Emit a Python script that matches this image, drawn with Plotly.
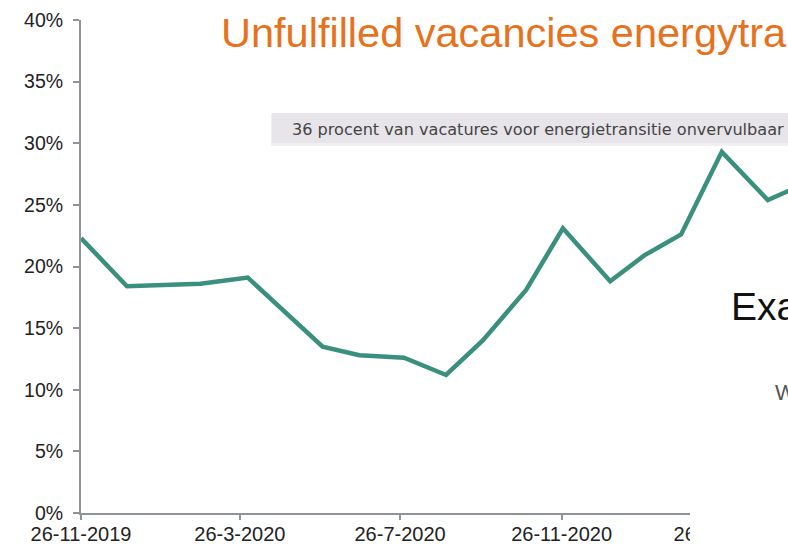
import plotly.graph_objects as go

# ---- data ----
dates = ["2019-11-26", "2019-12-31", "2020-02-25", "2020-04-01", "2020-05-28",
         "2020-06-25", "2020-07-29", "2020-08-30", "2020-09-27", "2020-10-30",
         "2020-11-27", "2021-01-02", "2021-01-28", "2021-02-25", "2021-03-28",
         "2021-05-02", "2021-05-30"]
share_pct = [22.3, 18.4, 18.6, 19.1, 13.5, 12.8, 12.6, 11.2, 14.0, 18.1,
             23.1, 18.8, 20.9, 22.6, 29.3, 25.4, 26.7]

tick_dates = ["2019-11-26", "2020-03-26", "2020-07-26", "2020-11-26", "2021-03-26"]
tick_text = ["26-11-2019", "26-3-2020", "26-7-2020", "26-11-2020", "26-3-2021"]
y_ticks = [0, 5, 10, 15, 20, 25, 30, 35, 40]
y_tick_text = ["0%", "5%", "10%", "15%", "20%", "25%", "30%", "35%", "40%"]

title_text = "Unfulfilled vacancies energytransition"
caption_text = "36 procent van vacatures voor energietransitie onvervulbaar"
overlay_text = "Exa"
overlay_text2 = "W"

# ---- layout geometry ----
W, H = 788, 546
ML, MR, MT, MB = 81, 0, 20, 33
PW, PH = W - ML - MR, H - MT - MB


def px(x):
    return (x - ML) / PW


def py(y):
    return (H - MB - y) / PH


FONT = "Liberation Sans, Arial, sans-serif"
AXIS = "#8e939a"

fig = go.Figure()
fig.add_trace(go.Scatter(
    x=dates, y=share_pct, mode="lines",
    line=dict(color="#3b8f7f", width=4.5),
    hoverinfo="skip", showlegend=False,
))

fig.update_layout(
    width=W, height=H,
    margin=dict(l=ML, r=MR, t=MT, b=MB, pad=0, autoexpand=False),
    paper_bgcolor="white", plot_bgcolor="white",
    font=dict(family=FONT, size=19, color="#222222"),
    showlegend=False,
)
fig.update_xaxes(
    type="date", range=["2019-11-26", "2021-05-17 10:00"],
    tickmode="array", tickvals=tick_dates, ticktext=tick_text,
    showgrid=False, zeroline=False,
    showline=True, linecolor=AXIS, linewidth=2,
    ticks="outside", ticklen=5, tickcolor=AXIS, tickwidth=1.5,
    ticklabelstandoff=-3,
    tickfont=dict(family=FONT, size=20, color="#222222"),
)
fig.update_yaxes(
    range=[0, 40], tickmode="array", tickvals=y_ticks, ticktext=y_tick_text,
    showgrid=False, zeroline=False,
    showline=True, linecolor=AXIS, linewidth=2,
    ticks="outside", ticklen=6, tickcolor=AXIS, tickwidth=1.5,
    ticklabelstandoff=6,
    tickfont=dict(family=FONT, size=19.5, color="#222222"),
)

# white slide box covering lower right part
fig.add_shape(type="rect", xref="paper", yref="paper",
              x0=px(690), x1=px(800), y0=py(268), y1=py(560),
              fillcolor="white", line=dict(width=0), layer="above")

# caption box with soft shadow
fig.add_shape(type="rect", xref="paper", yref="paper",
              x0=px(271), x1=px(800), y0=py(146), y1=py(114),
              fillcolor="rgba(0,0,0,0.06)", line=dict(width=0), layer="above")
fig.add_shape(type="rect", xref="paper", yref="paper",
              x0=px(272), x1=px(800), y0=py(143), y1=py(113),
              fillcolor="#e7e4ea", line=dict(width=0), layer="above")

fig.add_annotation(xref="paper", yref="paper", x=px(290), y=py(129),
                   xanchor="left", yanchor="middle", showarrow=False,
                   text=caption_text,
                   font=dict(family="DejaVu Sans, sans-serif", size=16.1, color="#444444"))

fig.add_annotation(xref="paper", yref="paper", x=px(219), y=py(32),
                   xanchor="left", yanchor="middle", showarrow=False,
                   text=title_text,
                   font=dict(family=FONT, size=41.5, color="#e8711c"))

fig.add_annotation(xref="paper", yref="paper", x=px(729), y=py(307),
                   xanchor="left", yanchor="middle", showarrow=False,
                   text=overlay_text,
                   font=dict(family=FONT, size=39, color="#111111"))
fig.add_annotation(xref="paper", yref="paper", x=px(773), y=py(392),
                   xanchor="left", yanchor="middle", showarrow=False,
                   text=overlay_text2,
                   font=dict(family=FONT, size=22, color="#555555"))

fig.write_html("out.html", config={"displayModeBar": False},
               post_script="document.body.style.margin='0px';")
